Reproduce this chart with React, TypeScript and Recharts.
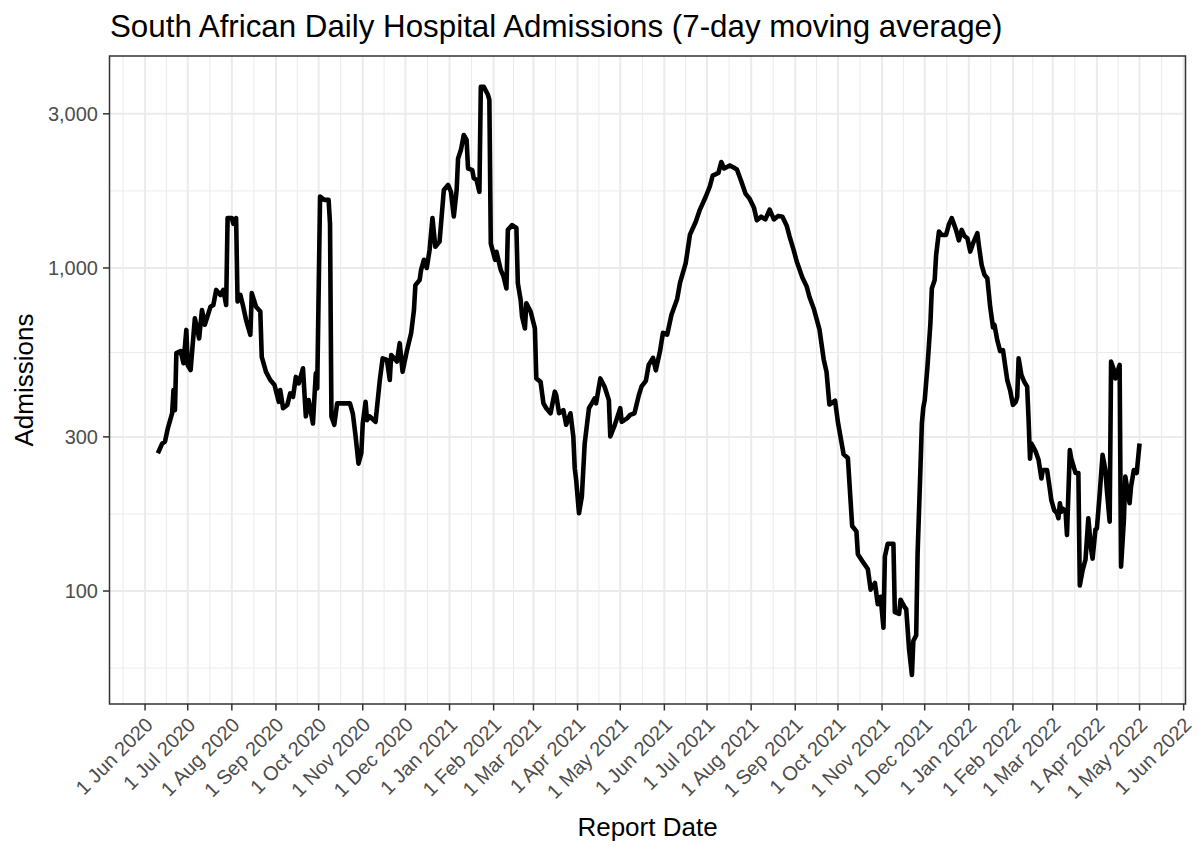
import { CartesianGrid, Line, LineChart, XAxis, YAxis } from "recharts";

const DAY = 86400000;
const FONT = '"Liberation Sans", Arial, Helvetica, sans-serif';
const MONTHS = ["Jan", "Feb", "Mar", "Apr", "May", "Jun", "Jul", "Aug", "Sep", "Oct", "Nov", "Dec"];

// 7-day moving average of daily admissions
const reportDates = [
  "2020-06-10", "2020-06-13", "2020-06-15", "2020-06-17", "2020-06-20", "2020-06-21", "2020-06-22", "2020-06-23",
  "2020-06-26", "2020-06-28", "2020-06-30", "2020-07-01", "2020-07-03", "2020-07-06", "2020-07-09", "2020-07-11",
  "2020-07-13", "2020-07-17", "2020-07-19", "2020-07-21", "2020-07-24", "2020-07-26", "2020-07-28", "2020-07-29",
  "2020-08-01", "2020-08-02", "2020-08-04", "2020-08-05", "2020-08-07", "2020-08-09", "2020-08-11", "2020-08-14",
  "2020-08-15", "2020-08-18", "2020-08-21", "2020-08-22", "2020-08-25", "2020-08-28", "2020-08-31", "2020-09-03",
  "2020-09-04", "2020-09-06", "2020-09-09", "2020-09-11", "2020-09-13", "2020-09-15", "2020-09-17", "2020-09-20",
  "2020-09-22", "2020-09-24", "2020-09-27", "2020-09-29", "2020-09-30", "2020-10-02", "2020-10-05", "2020-10-08",
  "2020-10-09", "2020-10-10", "2020-10-12", "2020-10-14", "2020-10-23", "2020-10-25", "2020-10-27", "2020-10-29",
  "2020-10-31", "2020-11-01", "2020-11-03", "2020-11-04", "2020-11-06", "2020-11-10", "2020-11-13", "2020-11-15",
  "2020-11-18", "2020-11-20", "2020-11-21", "2020-11-25", "2020-11-27", "2020-11-29", "2020-12-02", "2020-12-05",
  "2020-12-07", "2020-12-08", "2020-12-11", "2020-12-12", "2020-12-14", "2020-12-16", "2020-12-18", "2020-12-20",
  "2020-12-22", "2020-12-25", "2020-12-28", "2020-12-31", "2021-01-02", "2021-01-04", "2021-01-06", "2021-01-07",
  "2021-01-09", "2021-01-11", "2021-01-13", "2021-01-14", "2021-01-17", "2021-01-18", "2021-01-20", "2021-01-22",
  "2021-01-23", "2021-01-25", "2021-01-28", "2021-01-29", "2021-01-30", "2021-02-02", "2021-02-03", "2021-02-06",
  "2021-02-08", "2021-02-10", "2021-02-11", "2021-02-14", "2021-02-17", "2021-02-18", "2021-02-20", "2021-02-21",
  "2021-02-23", "2021-02-24", "2021-02-27", "2021-03-02", "2021-03-03", "2021-03-06", "2021-03-08", "2021-03-10",
  "2021-03-13", "2021-03-16", "2021-03-17", "2021-03-19", "2021-03-22", "2021-03-24", "2021-03-27", "2021-03-29",
  "2021-03-30", "2021-03-31", "2021-04-02", "2021-04-04", "2021-04-06", "2021-04-07", "2021-04-09", "2021-04-11",
  "2021-04-13", "2021-04-14", "2021-04-17", "2021-04-20", "2021-04-23", "2021-04-24", "2021-04-27", "2021-05-01",
  "2021-05-02", "2021-05-06", "2021-05-08", "2021-05-11", "2021-05-14", "2021-05-16", "2021-05-19", "2021-05-21",
  "2021-05-24", "2021-05-26", "2021-05-29", "2021-05-31", "2021-06-03", "2021-06-06", "2021-06-10", "2021-06-12",
  "2021-06-16", "2021-06-19", "2021-06-23", "2021-06-26", "2021-06-30", "2021-07-03", "2021-07-05", "2021-07-09",
  "2021-07-11", "2021-07-13", "2021-07-17", "2021-07-20", "2021-07-22", "2021-07-25", "2021-07-28", "2021-07-31",
  "2021-08-03", "2021-08-05", "2021-08-08", "2021-08-11", "2021-08-14", "2021-08-17", "2021-08-20", "2021-08-23",
  "2021-08-26", "2021-08-28", "2021-08-31", "2021-09-02", "2021-09-06", "2021-09-09", "2021-09-11", "2021-09-14",
  "2021-09-18", "2021-09-21", "2021-09-23", "2021-09-25", "2021-09-29", "2021-10-01", "2021-10-05", "2021-10-08",
  "2021-10-11", "2021-10-14", "2021-10-15", "2021-10-18", "2021-10-22", "2021-10-24", "2021-10-27", "2021-10-29",
  "2021-10-31", "2021-11-02", "2021-11-03", "2021-11-05", "2021-11-09", "2021-11-10", "2021-11-13", "2021-11-14",
  "2021-11-17", "2021-11-18", "2021-11-20", "2021-11-22", "2021-11-23", "2021-11-25", "2021-11-26", "2021-11-28",
  "2021-11-29", "2021-11-30", "2021-12-01", "2021-12-03", "2021-12-05", "2021-12-06", "2021-12-08", "2021-12-09",
  "2021-12-11", "2021-12-13", "2021-12-16", "2021-12-18", "2021-12-20", "2021-12-23", "2021-12-25", "2021-12-27",
  "2021-12-29", "2021-12-31", "2022-01-02", "2022-01-04", "2022-01-07", "2022-01-08", "2022-01-10", "2022-01-12",
  "2022-01-14", "2022-01-16", "2022-01-18", "2022-01-19", "2022-01-21", "2022-01-23", "2022-01-25", "2022-01-27",
  "2022-01-28", "2022-01-30", "2022-02-01", "2022-02-03", "2022-02-04", "2022-02-05", "2022-02-07", "2022-02-09",
  "2022-02-11", "2022-02-12", "2022-02-13", "2022-02-14", "2022-02-17", "2022-02-19", "2022-02-21", "2022-02-22",
  "2022-02-25", "2022-02-27", "2022-02-28", "2022-03-02", "2022-03-04", "2022-03-05", "2022-03-06", "2022-03-07",
  "2022-03-08", "2022-03-10", "2022-03-11", "2022-03-13", "2022-03-14", "2022-03-17", "2022-03-19", "2022-03-20",
  "2022-03-22", "2022-03-24", "2022-03-26", "2022-03-28", "2022-03-29", "2022-03-31", "2022-04-01", "2022-04-03",
  "2022-04-05", "2022-04-07", "2022-04-08", "2022-04-10", "2022-04-11", "2022-04-13", "2022-04-14", "2022-04-17",
  "2022-04-18", "2022-04-20", "2022-04-21", "2022-04-24", "2022-04-25", "2022-04-27", "2022-04-29", "2022-05-01",
];

const admissions = [
  267, 286, 290, 319, 355, 419, 363, 545,
  553, 507, 643, 500, 483, 699, 605, 741,
  667, 759, 768, 855, 825, 855, 768, 1427,
  1427, 1370, 1427, 787, 825, 759, 690, 621,
  836, 759, 733, 531, 477, 450, 434, 385,
  419, 368, 377, 409, 399, 460, 439, 489,
  347, 390, 330, 472, 424, 1663, 1625, 1625,
  1370, 347, 327, 381, 381, 355, 301, 248,
  267, 330, 385, 338, 347, 334, 450, 525,
  519, 450, 538, 513, 585, 477, 553, 628,
  741, 885, 918, 986, 1060, 1000, 1138, 1427,
  1164, 1207, 1742, 1807, 1720, 1443, 1742, 2183,
  2317, 2580, 2490, 2035, 2009, 1897, 1872, 1720,
  3640, 3640, 3436, 3313, 1192, 1060, 1122, 986,
  940, 864, 1312, 1358, 1330, 898, 795, 706,
  650, 778, 733, 650, 455, 444, 381, 368,
  355, 414, 404, 355, 363, 327, 355, 301,
  240, 221, 174, 196, 286, 311, 368, 381,
  395, 381, 455, 429, 390, 301, 325, 368,
  334, 343, 351, 355, 403, 430, 447, 501,
  527, 482, 554, 630, 622, 716, 802, 899,
  1035, 1268, 1387, 1516, 1658, 1790, 1932, 1969,
  2128, 2032, 2077, 2043, 2018, 1858, 1699, 1636,
  1535, 1404, 1441, 1414, 1516, 1414, 1449, 1441,
  1352, 1253, 1132, 1049, 935, 877, 813, 749,
  646, 521, 476, 378, 388, 333, 265, 258,
  159, 153, 130, 124, 117, 101, 106, 91,
  96, 77, 128, 140, 140, 86, 85, 94,
  89, 88, 66, 55, 70, 73, 131, 240,
  330, 370, 390, 500, 674, 864, 918, 1094,
  1296, 1265, 1265, 1364, 1427, 1312, 1218, 1312,
  1255, 1236, 1124, 1193, 1282, 1180, 1022, 952,
  929, 759, 655, 667, 598, 553, 557, 483,
  450, 419, 377, 385, 399, 525, 466, 444,
  429, 340, 257, 286, 270, 255, 223, 237,
  237, 206, 191, 178, 174, 168, 187, 176,
  180, 176, 149, 273, 257, 232, 232, 104,
  116, 125, 168, 134, 126, 155, 156, 200,
  264, 237, 206, 164, 513, 483, 455, 501,
  119, 166, 226, 187, 210, 237, 232, 286,
];

const monthTicks = [
  "2020-06-01", "2020-07-01", "2020-08-01", "2020-09-01", "2020-10-01", "2020-11-01", "2020-12-01",
  "2021-01-01", "2021-02-01", "2021-03-01", "2021-04-01", "2021-05-01", "2021-06-01", "2021-07-01",
  "2021-08-01", "2021-09-01", "2021-10-01", "2021-11-01", "2021-12-01", "2022-01-01", "2022-02-01",
  "2022-03-01", "2022-04-01", "2022-05-01", "2022-06-01",
];
const admissionTicks = [100, 300, 1000, 3000];

// panel placement (page pixels)
const PLOT_LEFT = 109.5;
const PLOT_TOP = 56;
const PLOT_RIGHT = 1185.5;
const PLOT_BOTTOM = 704;

const toTs = (s: string) => Date.parse(s + "T00:00:00Z");

const tickTs = monthTicks.map(toTs);
const gridMonths = [toTs("2020-05-01"), ...tickTs];
const minorTs = gridMonths.slice(1).map((t, i) => (t + gridMonths[i]) / 2);
const minorAdmissions = admissionTicks
  .map((v, i) => (i === 0 ? Math.sqrt(v * (v / 3)) : Math.sqrt(v * admissionTicks[i - 1])));

const X_DOMAIN = [toTs("2020-06-01") - 25 * DAY, toTs("2022-06-01") + 1.3 * DAY];
const Y_DOMAIN = [44.7, 4530];

const data = reportDates.map((d, i) => ({ t: toTs(d), admissions: admissions[i] }));

function formatDate(value: number) {
  const d = new Date(value);
  return `${d.getUTCDate()} ${MONTHS[d.getUTCMonth()]} ${d.getUTCFullYear()}`;
}

function DateTick(props: any) {
  const { x, payload } = props;
  const ax = x + 9;
  const ay = PLOT_BOTTOM + 22;
  return (
    <text
      x={ax}
      y={ay}
      transform={`rotate(-45 ${ax} ${ay})`}
      textAnchor="end"
      fill="#4D4D4D"
      fontSize={20}
      fontFamily={FONT}
    >
      {formatDate(payload.value)}
    </text>
  );
}

export default function App() {
  return (
    <div style={{ position: "absolute", left: 0, top: 0, width: 1200, height: 857, background: "#fff" }}>
      <LineChart
        width={1200}
        height={857}
        data={data}
        margin={{ top: PLOT_TOP, right: 1200 - PLOT_RIGHT, bottom: 857 - PLOT_BOTTOM - 100, left: PLOT_LEFT - 60 }}
      >
        <CartesianGrid
          horizontalValues={minorAdmissions}
          verticalValues={minorTs}
          stroke="#EBEBEB"
          strokeWidth={1}
        />
        <CartesianGrid
          horizontalValues={admissionTicks}
          verticalValues={tickTs}
          stroke="#EBEBEB"
          strokeWidth={2}
        />
        <XAxis
          dataKey="t"
          type="number"
          domain={X_DOMAIN}
          ticks={tickTs}
          allowDataOverflow
          height={100}
          axisLine={false}
          tickLine={{ stroke: "#333333", strokeWidth: 1.5 }}
          tickSize={6.5}
          tick={<DateTick />}
          interval={0}
        />
        <YAxis
          type="number"
          scale="log"
          domain={Y_DOMAIN}
          ticks={admissionTicks}
          allowDataOverflow
          width={60}
          axisLine={false}
          tickLine={{ stroke: "#333333", strokeWidth: 1.5 }}
          tickSize={6.5}
          tickMargin={5}
          tick={{ fill: "#4D4D4D", fontSize: 20, fontFamily: FONT }}
          tickFormatter={(v: number) => v.toLocaleString("en-US")}
        />
        <Line
          type="linear"
          dataKey="admissions"
          stroke="#000000"
          strokeWidth={4.6}
          strokeLinejoin="round"
          strokeLinecap="butt"
          dot={false}
          isAnimationActive={false}
        />
      </LineChart>
      <svg
        width={1200}
        height={857}
        style={{ position: "absolute", left: 0, top: 0, pointerEvents: "none" }}
        fontFamily={FONT}
      >
        <rect
          x={PLOT_LEFT}
          y={PLOT_TOP}
          width={PLOT_RIGHT - PLOT_LEFT}
          height={PLOT_BOTTOM - PLOT_TOP}
          fill="none"
          stroke="#333333"
          strokeWidth={1.5}
        />
        <text x={110} y={37} fontSize={31.3} fill="#000">
          South African Daily Hospital Admissions (7-day moving average)
        </text>
        <text x={(PLOT_LEFT + PLOT_RIGHT) / 2} y={836} fontSize={26} fill="#000" textAnchor="middle">
          Report Date
        </text>
        <text
          x={33}
          y={(PLOT_TOP + PLOT_BOTTOM) / 2}
          fontSize={26}
          fill="#000"
          textAnchor="middle"
          transform={`rotate(-90 33 ${(PLOT_TOP + PLOT_BOTTOM) / 2})`}
        >
          Admissions
        </text>
      </svg>
    </div>
  );
}
